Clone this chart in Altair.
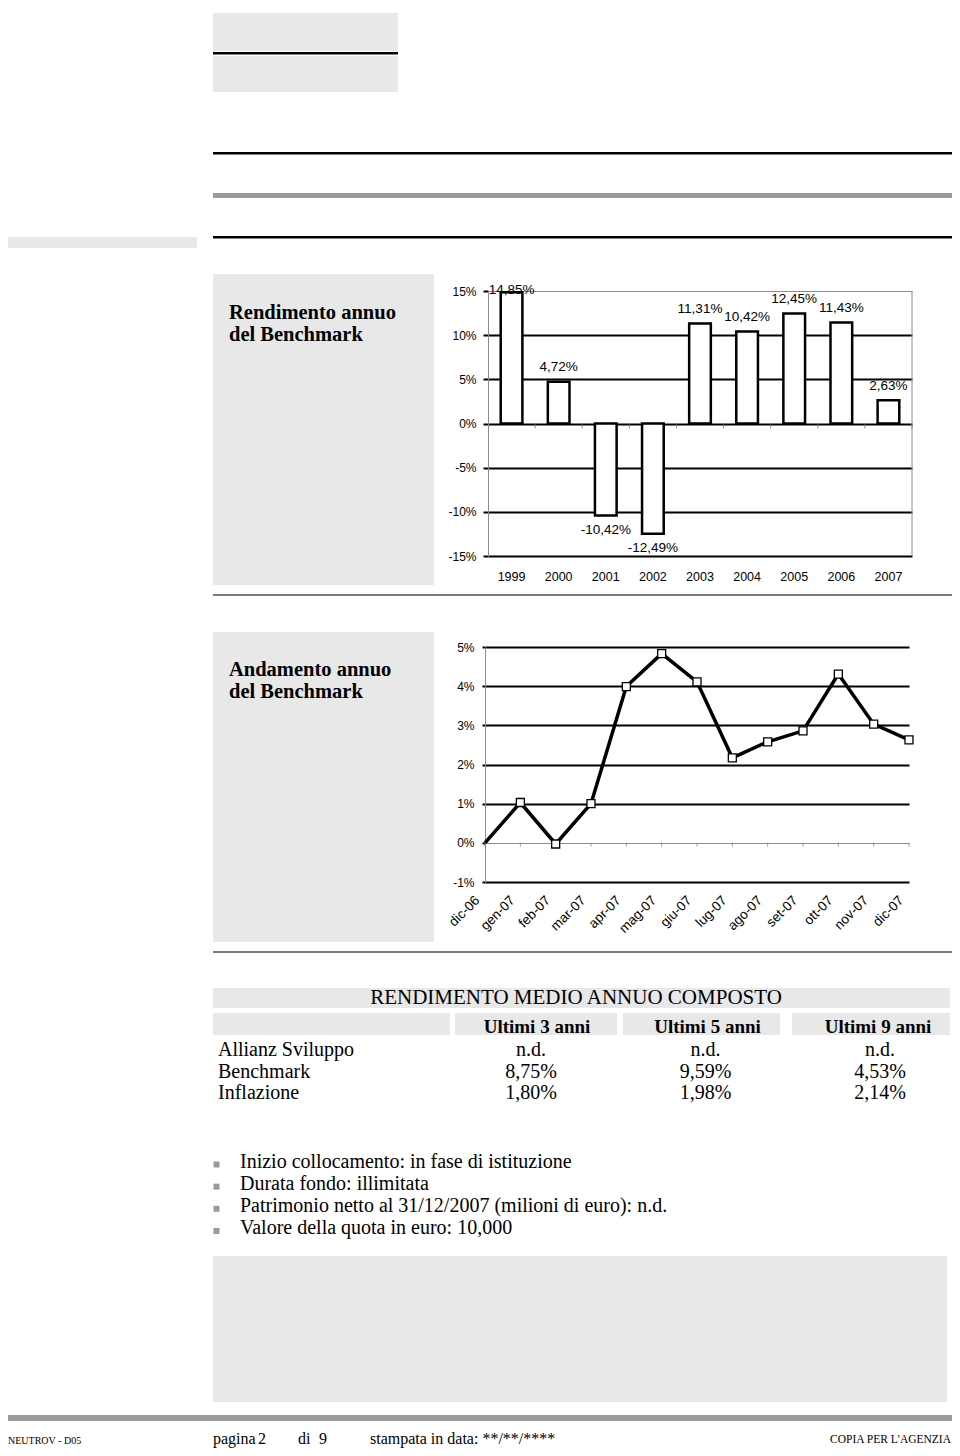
import altair as alt
import pandas as pd

# ---------------- data ----------------
years = ["1999", "2000", "2001", "2002", "2003", "2004", "2005", "2006", "2007"]
annual_returns = [14.85, 4.72, -10.42, -12.49, 11.31, 10.42, 12.45, 11.43, 2.63]
bar_ticks = [-15, -10, -5, 0, 5, 10, 15]

months = ["dic-06", "gen-07", "feb-07", "mar-07", "apr-07", "mag-07", "giu-07",
          "lug-07", "ago-07", "set-07", "ott-07", "nov-07", "dic-07"]
monthly_perf = [0.0, 1.03, -0.03, 1.0, 3.99, 4.83, 4.11, 2.17, 2.58, 2.86, 4.31, 3.03, 2.63]
line_ticks = [-1, 0, 1, 2, 3, 4, 5]

table_title = "RENDIMENTO MEDIO ANNUO COMPOSTO"
periods = ["Ultimi 3 anni", "Ultimi 5 anni", "Ultimi 9 anni"]
row_names = ["Allianz Sviluppo", "Benchmark", "Inflazione"]
allianz = ["n.d.", "n.d.", "n.d."]
benchmark = ["8,75%", "9,59%", "4,53%"]
inflazione = ["1,80%", "1,98%", "2,14%"]

bullets = [
    "Inizio collocamento: in fase di istituzione",
    "Durata fondo: illimitata",
    "Patrimonio netto al 31/12/2007 (milioni di euro): n.d.",
    "Valore della quota in euro: 10,000",
]

# ---------------- styling / layout ----------------
SANS = "Liberation Sans"
SERIF = "Liberation Serif"
PANEL = "#e8e8e8"
DARK = "#9b9b9b"
AXG = "#8c8c8c"
W, H = 944, 1440
M = 8  # page margin

one = pd.DataFrame({"k": [0]})


def px(v):
    return alt.value(v - M)


def box(x1, y1, x2, y2, color):
    return alt.Chart(one).mark_rect(color=color).encode(
        x=px(x1), x2=px(x2), y=px(y1), y2=px(y2))


def txt(s, x, y, size, font=SERIF, align="left", weight="normal"):
    return alt.Chart(one).mark_text(
        text=s, font=font, fontSize=size, align=align, baseline="middle",
        fontWeight=weight, color="black").encode(x=px(x), y=px(y))


deco = [
    box(213, 13, 398, 51, PANEL),
    box(213, 52, 398, 54.5, "black"),
    box(213, 56, 398, 92, PANEL),
    box(213, 152, 960, 154.5, "black"),
    box(213, 193, 960, 198, DARK),
    box(213, 236, 960, 238.5, "black"),
    box(8, 237, 197, 248, PANEL),
    box(213, 274, 434, 585, PANEL),
    box(213, 594, 960, 596, "#7a7a7a"),
    box(213, 632, 434, 942, PANEL),
    box(213, 951, 960, 953, "#7a7a7a"),
    box(213, 988, 950, 1008, PANEL),
    box(213, 1013, 450, 1035, PANEL),
    box(455, 1013, 617, 1035, PANEL),
    box(623, 1013, 780, 1035, PANEL),
    box(792, 1013, 950, 1035, PANEL),
    box(213, 1256, 947, 1402, PANEL),
    box(8, 1415, 960, 1421, DARK),
    txt("Rendimento annuo", 229, 313, 20.5, weight="bold"),
    txt("del Benchmark", 229, 335, 20.5, weight="bold"),
    txt("Andamento annuo", 229, 670, 20.5, weight="bold"),
    txt("del Benchmark", 229, 692, 20.5, weight="bold"),
    txt(table_title, 576, 998, 21, align="center"),
    txt("NEUTROV - D05", 8, 1441, 10),
    txt("pagina", 213, 1438.5, 16),
    txt("2", 258, 1438.5, 16),
    txt("di", 298, 1438.5, 16),
    txt("9", 319, 1438.5, 16),
    txt("stampata in data: **/**/****", 370, 1438.5, 16),
    txt("COPIA PER L'AGENZIA", 951, 1440, 11.5, align="right"),
]

# ---------------- bar chart ----------------
bar_df = pd.DataFrame({"year": years, "ret": annual_returns})
xb = alt.Scale(domain=years, range=[480, 904], paddingInner=0.54, paddingOuter=0.27)
yb = alt.Scale(domain=[-15, 15], range=[548, 283], nice=False, zero=False)
yb_axis = alt.Axis(
    orient="left", offset=-480, values=bar_ticks, labelExpr="datum.value + '%'",
    title=None, domainColor=AXG, domainWidth=1, tickColor="black", tickWidth=2,
    tickSize=5, labelPadding=7, labelFont=SANS, labelFontSize=12, labelColor="black",
    grid=True,
    gridColor=alt.condition("datum.value == 15", alt.value(AXG), alt.value("black")),
    gridWidth=alt.condition("datum.value == 15", alt.value(1), alt.value(2)))
xb_axis = alt.Axis(
    orient="bottom", offset=-879.5, title=None, domain=False, ticks=False,
    labelPadding=2, labelFont=SANS, labelFontSize=12.5, labelColor="black",
    labelAngle=0, grid=False)
XB = alt.X("year:N", scale=xb, axis=xb_axis, sort=years)

bars = alt.Chart(bar_df).mark_bar(fill="white", stroke="black", strokeWidth=2.5).encode(
    x=XB, y=alt.Y("ret:Q", scale=yb, axis=yb_axis))
lab_base = alt.Chart(bar_df).transform_calculate(
    txt="(datum.ret < 0 ? '-' : '') + replace(format(abs(datum.ret), '.2f'), '.', ',') + '%'",
    ly="min(datum.ret, 13.5)")
pos_lab = lab_base.transform_filter("datum.ret >= 0").mark_text(
    font=SANS, fontSize=13.5, dy=-14.5, baseline="middle", color="black").encode(
    x=XB, y=alt.Y("ly:Q", scale=yb, axis=yb_axis), text="txt:N")
neg_lab = lab_base.transform_filter("datum.ret < 0").mark_text(
    font=SANS, fontSize=13.5, dy=14.5, baseline="middle", color="black").encode(
    x=XB, y=alt.Y("ly:Q", scale=yb, axis=yb_axis), text="txt:N")
bar_ticks0 = alt.Chart(bar_df).mark_tick(
    orient="vertical", size=5, thickness=1, color="#666", xOffset=23.56, yOffset=2.5).encode(
    x=XB, y=alt.Y(datum=0, scale=yb, axis=yb_axis))
bar_border = alt.Chart(one).mark_rule(color=AXG, strokeWidth=1).encode(
    x=alt.value(904), y=alt.Y(datum=15, scale=yb, axis=yb_axis), y2=alt.Y2(datum=-15))
bar_chart = alt.layer(bars, bar_ticks0, pos_lab, neg_lab, bar_border)

# ---------------- line chart ----------------
line_df = pd.DataFrame({"month": months, "perf": monthly_perf})
xl = alt.Scale(type="point", domain=months, range=[477, 901], padding=0)
yl = alt.Scale(domain=[-1, 5], range=[874, 639], nice=False, zero=False)
yl_axis = alt.Axis(
    orient="left", offset=-477, values=line_ticks, labelExpr="datum.value + '%'",
    title=None, domainColor=AXG, domainWidth=1, tickColor="black", tickWidth=2,
    tickSize=3, labelPadding=8, labelFont=SANS, labelFontSize=12, labelColor="black",
    grid=True,
    gridColor=alt.condition("datum.value == 0", alt.value(AXG), alt.value("black")),
    gridWidth=alt.condition("datum.value == 0", alt.value(1), alt.value(2)))
xl_axis = alt.Axis(
    orient="bottom", offset=-562, title=None, domain=False, ticks=False,
    labelPadding=7, labelOffset=-13, labelAngle=-45, labelAlign="right",
    labelBaseline="top", labelFont=SANS, labelFontSize=13.5, labelColor="black",
    grid=False)
XL = alt.X("month:O", scale=xl, axis=xl_axis, sort=months)

line = alt.Chart(line_df).mark_line(color="black", strokeWidth=3.5).encode(
    x=XL, y=alt.Y("perf:Q", scale=yl, axis=yl_axis))
line_pts = alt.Chart(line_df).transform_filter("datum.month != 'dic-06'").mark_point(
    shape="square", filled=True, fill="white", stroke="black", strokeWidth=1.3,
    size=64, opacity=1).encode(x=XL, y=alt.Y("perf:Q", scale=yl, axis=yl_axis))
line_ticks0 = alt.Chart(line_df).mark_tick(
    orient="vertical", size=4, thickness=1, color="#777", yOffset=2).encode(
    x=XL, y=alt.Y(datum=0, scale=yl, axis=yl_axis))
line_chart = alt.layer(line_ticks0, line, line_pts)

# ---------------- table ----------------
hdr_df = pd.DataFrame({"period": periods})
headers = alt.Chart(hdr_df).mark_text(
    font=SERIF, fontSize=19, fontWeight="bold", baseline="middle", color="black").encode(
    x=alt.X("period:N", sort=periods,
            scale=alt.Scale(type="point", domain=periods, range=[529, 870], padding=0),
            axis=None),
    y=px(1026.5), text="period:N")

vals = []
for name, series in zip(row_names, [allianz, benchmark, inflazione]):
    for p, v in zip(periods, series):
        vals.append({"row": name, "period": p, "val": v})
val_df = pd.DataFrame(vals)
row_scale = alt.Scale(type="point", domain=row_names, range=[1042, 1085], padding=0)
values = alt.Chart(val_df).mark_text(
    font=SERIF, fontSize=20, baseline="middle", color="black").encode(
    x=alt.X("period:N", sort=periods,
            scale=alt.Scale(type="point", domain=periods, range=[523, 872], padding=0),
            axis=None),
    y=alt.Y("row:N", sort=row_names, scale=row_scale, axis=None),
    text="val:N")
rows = alt.Chart(pd.DataFrame({"row": row_names})).mark_text(
    font=SERIF, fontSize=20, baseline="middle", align="left", color="black").encode(
    x=px(218), y=alt.Y("row:N", sort=row_names, scale=row_scale, axis=None),
    text="row:N")
table = alt.layer(values, rows)

# ---------------- bullets ----------------
bul_df = pd.DataFrame({"b": bullets})
bscale = alt.Scale(type="point", domain=bullets, range=[1153.5, 1220], padding=0)
bul_txt = alt.Chart(bul_df).mark_text(
    font=SERIF, fontSize=20, baseline="middle", align="left", color="black").encode(
    x=px(240), y=alt.Y("b:N", sort=bullets, scale=bscale, axis=None), text="b:N")
bul_sq = alt.Chart(bul_df).mark_square(size=36, color="#9a9a9a", opacity=1, yOffset=3).encode(
    x=px(216.5), y=alt.Y("b:N", sort=bullets, scale=bscale, axis=None))
bul = alt.layer(bul_sq, bul_txt)

chart = alt.layer(*deco, bar_chart, line_chart, headers, table, bul).resolve_scale(
    x="independent", y="independent").resolve_axis(
    x="independent", y="independent").properties(
    width=W, height=H, autosize=alt.AutoSizeParams(type="none"), padding=0,
    background="white").configure_view(stroke=None)

chart.save("out.html", embed_options={"renderer": "svg", "actions": False})
